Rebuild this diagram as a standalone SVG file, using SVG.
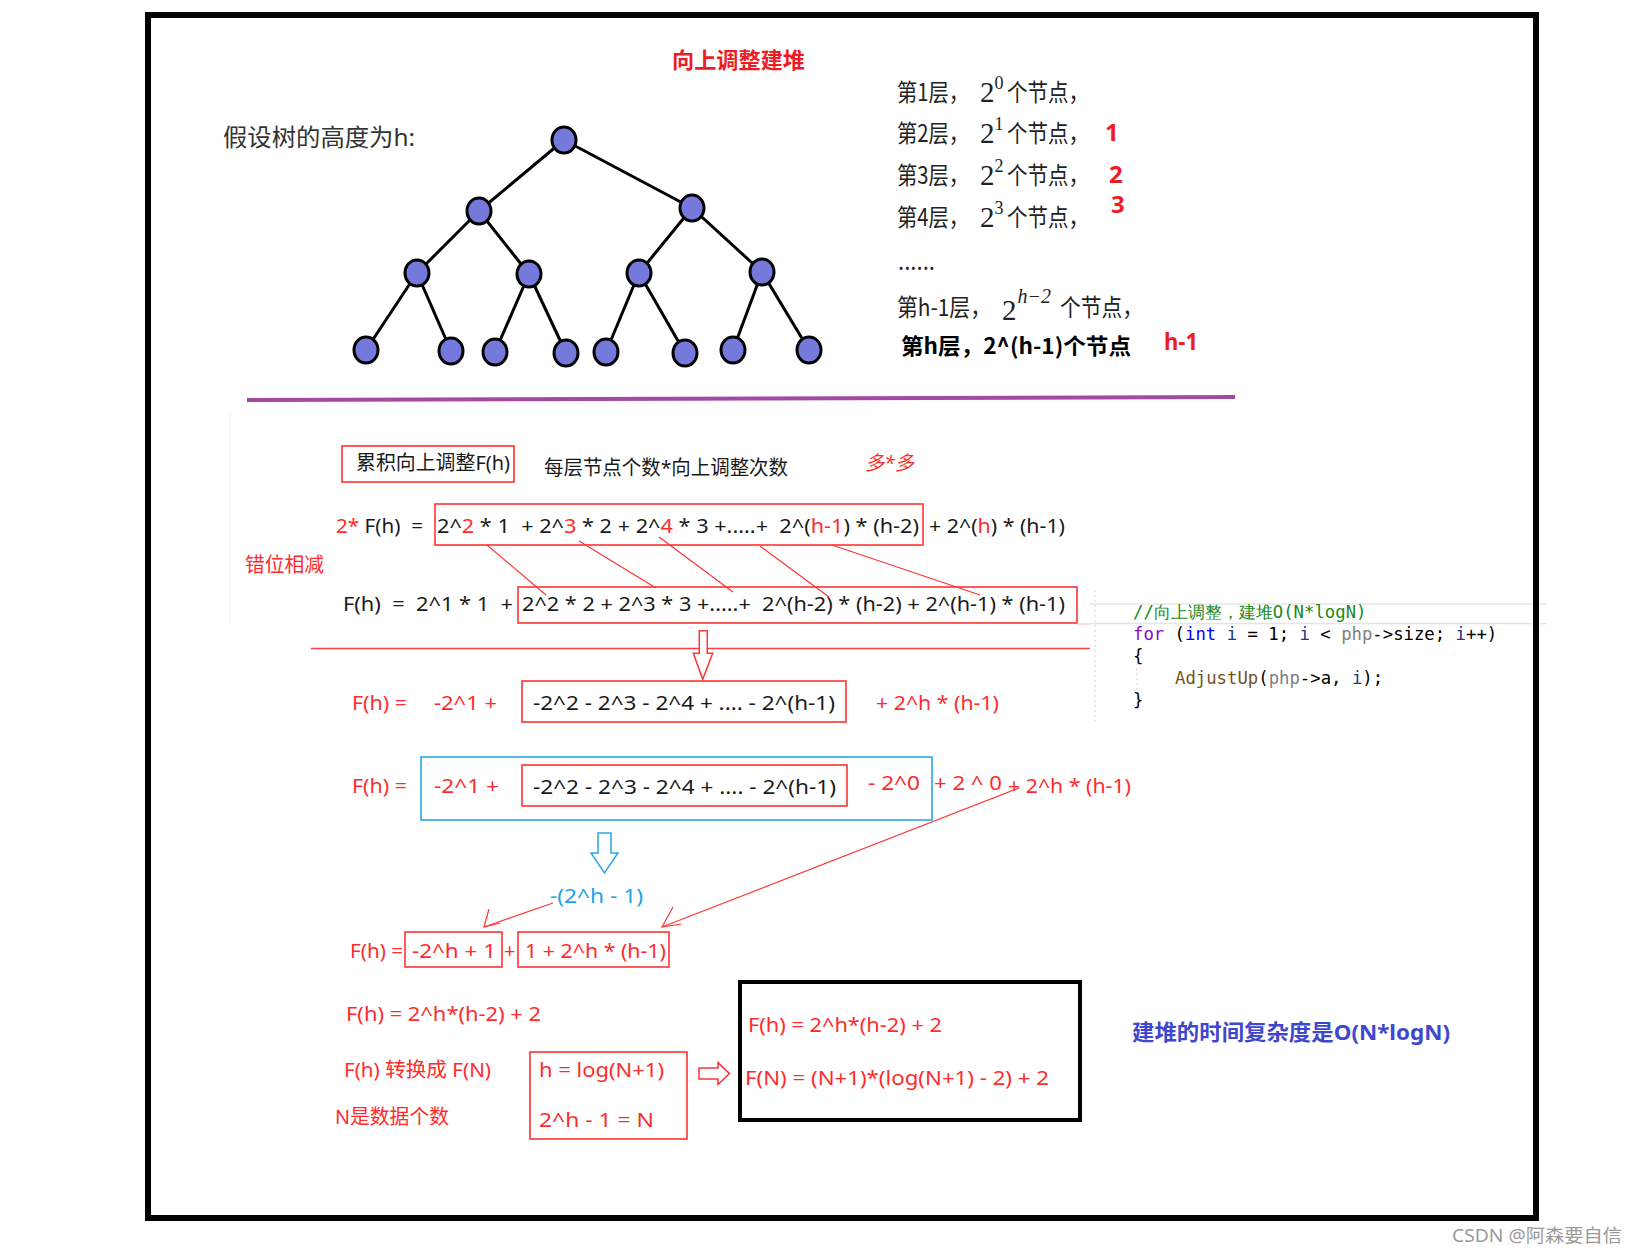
<svg xmlns="http://www.w3.org/2000/svg" width="1640" height="1254" viewBox="0 0 1640 1254">
<style>
text{font-family:"Noto Sans","Noto Sans CJK SC",sans-serif;white-space:pre}
.eq{font-size:20px;fill:#1a1a1a}
.r{fill:#ff2b2b}
.rb{fill:none;stroke:#ff3333;stroke-width:1.6}
.cj{font-family:"Noto Sans CJK SC",sans-serif;font-size:24px;fill:#222}
.m{font-family:"Liberation Serif",serif;fill:#222;font-size:29px}
.sup{font-size:18px}
.code{font-family:"DejaVu Sans Mono",monospace;font-size:17.3px;fill:#000}
.edge{stroke:#000;stroke-width:3}
.node{fill:#7579dc;stroke:#000;stroke-width:3}
.thin{stroke:#ff3333;stroke-width:1.2;fill:none}
</style>
<rect width="1640" height="1254" fill="#fff"/>

<!-- code editor background lines -->
<g id="editor">
<line x1="1090" y1="604" x2="1547" y2="604" stroke="#e4e4ec" stroke-width="1.5"/>
<line x1="1090" y1="623.5" x2="1547" y2="623.5" stroke="#e4e4ec" stroke-width="1.5"/>
<line x1="1095" y1="590" x2="1095" y2="722" stroke="#cfcfcf" stroke-width="1" stroke-dasharray="2,3"/>
<line x1="1137" y1="663" x2="1137" y2="694" stroke="#cfcfcf" stroke-width="1" stroke-dasharray="2,3"/>
<text class="code" x="1133" y="618" style="fill:#1a8a1a">//向上调整，建堆O(N*logN)</text>
<text class="code" x="1133" y="640"><tspan fill="#8f08c4">for</tspan> (<tspan fill="#0000ff">int</tspan> <tspan fill="#1f377f">i</tspan> = 1; <tspan fill="#1f377f">i</tspan> &lt; <tspan fill="#808080">php</tspan>-&gt;size; <tspan fill="#1f377f">i</tspan>++)</text>
<text class="code" x="1133" y="662">{</text>
<text class="code" x="1175" y="684"><tspan fill="#74531f">AdjustUp</tspan>(<tspan fill="#808080">php</tspan>-&gt;a, <tspan fill="#1f377f">i</tspan>);</text>
<text class="code" x="1133" y="706">}</text>
</g>

<!-- frame -->
<rect x="148" y="15" width="1388" height="1203" fill="none" stroke="#000" stroke-width="6"/>

<!-- title -->
<text id="title" x="672" y="68" font-size="22" font-weight="bold" fill="#ee1c24" textLength="133" lengthAdjust="spacingAndGlyphs">向上调整建堆</text>
<text id="assume" x="223" y="146" font-size="24" fill="#333" textLength="192" lengthAdjust="spacingAndGlyphs">假设树的高度为h:</text>

<!-- tree -->
<g id="tree-edges">
<line class="edge" x1="564" y1="140" x2="479" y2="211"/>
<line class="edge" x1="564" y1="140" x2="692" y2="208"/>
<line class="edge" x1="479" y1="211" x2="417" y2="273"/>
<line class="edge" x1="479" y1="211" x2="529" y2="274"/>
<line class="edge" x1="692" y1="208" x2="639" y2="273"/>
<line class="edge" x1="692" y1="208" x2="762" y2="272"/>
<line class="edge" x1="417" y1="273" x2="366" y2="350"/>
<line class="edge" x1="417" y1="273" x2="451" y2="351"/>
<line class="edge" x1="529" y1="274" x2="495" y2="352"/>
<line class="edge" x1="529" y1="274" x2="566" y2="353"/>
<line class="edge" x1="639" y1="273" x2="606" y2="352"/>
<line class="edge" x1="639" y1="273" x2="685" y2="353"/>
<line class="edge" x1="762" y1="272" x2="733" y2="350"/>
<line class="edge" x1="762" y1="272" x2="809" y2="350"/>
</g>
<g id="tree-nodes">
<ellipse class="node" cx="564" cy="140" rx="12" ry="13"/>
<ellipse class="node" cx="479" cy="211" rx="12" ry="13"/>
<ellipse class="node" cx="692" cy="208" rx="12" ry="13"/>
<ellipse class="node" cx="417" cy="273" rx="12" ry="13"/>
<ellipse class="node" cx="529" cy="274" rx="12" ry="13"/>
<ellipse class="node" cx="639" cy="273" rx="12" ry="13"/>
<ellipse class="node" cx="762" cy="272" rx="12" ry="13"/>
<ellipse class="node" cx="366" cy="350" rx="12" ry="13"/>
<ellipse class="node" cx="451" cy="351" rx="12" ry="13"/>
<ellipse class="node" cx="495" cy="352" rx="12" ry="13"/>
<ellipse class="node" cx="566" cy="353" rx="12" ry="13"/>
<ellipse class="node" cx="606" cy="352" rx="12" ry="13"/>
<ellipse class="node" cx="685" cy="353" rx="12" ry="13"/>
<ellipse class="node" cx="733" cy="350" rx="12" ry="13"/>
<ellipse class="node" cx="809" cy="350" rx="12" ry="13"/>
</g>

<!-- level list -->
<g id="levels">
<text class="cj" x="897" y="101" textLength="72" lengthAdjust="spacingAndGlyphs">第1层，</text>
<text class="m" x="980" y="102">2<tspan class="sup" dy="-13">0</tspan></text>
<text class="cj" x="1007" y="101" textLength="82" lengthAdjust="spacingAndGlyphs">个节点，</text>

<text class="cj" x="897" y="142" textLength="72" lengthAdjust="spacingAndGlyphs">第2层，</text>
<text class="m" x="980" y="143">2<tspan class="sup" dy="-13">1</tspan></text>
<text class="cj" x="1007" y="142" textLength="82" lengthAdjust="spacingAndGlyphs">个节点，</text>

<text class="cj" x="897" y="184" textLength="72" lengthAdjust="spacingAndGlyphs">第3层，</text>
<text class="m" x="980" y="185">2<tspan class="sup" dy="-13">2</tspan></text>
<text class="cj" x="1007" y="184" textLength="82" lengthAdjust="spacingAndGlyphs">个节点，</text>

<text class="cj" x="897" y="226" textLength="72" lengthAdjust="spacingAndGlyphs">第4层，</text>
<text class="m" x="980" y="227">2<tspan class="sup" dy="-13">3</tspan></text>
<text class="cj" x="1007" y="226" textLength="82" lengthAdjust="spacingAndGlyphs">个节点，</text>

<text class="cj" x="898" y="270" textLength="37" lengthAdjust="spacingAndGlyphs">......</text>

<text class="cj" x="897" y="316" textLength="94" lengthAdjust="spacingAndGlyphs">第h-1层，</text>
<text class="m" x="1002" y="320">2<tspan dx="1" dy="-17" font-size="20" font-style="italic">h−2</tspan></text>
<text class="cj" x="1060" y="316" textLength="83" lengthAdjust="spacingAndGlyphs">个节点，</text>

<text class="cj" x="901" y="354" font-weight="bold" style="fill:#000;font-size:22px" textLength="230" lengthAdjust="spacingAndGlyphs">第h层，2^(h-1)个节点</text>

<text x="1105" y="141" font-size="24" font-weight="bold" fill="#ee1c24">1</text>
<text x="1109" y="183" font-size="24" font-weight="bold" fill="#ee1c24">2</text>
<text x="1111" y="213" font-size="24" font-weight="bold" fill="#ee1c24">3</text>
<text x="1164" y="350" font-size="24" font-weight="bold" fill="#ee1c24" textLength="34" lengthAdjust="spacingAndGlyphs">h-1</text>
</g>

<line id="divider" x1="247" y1="400" x2="1235" y2="397" stroke="#a349a4" stroke-width="4"/>
<line x1="230" y1="413" x2="230" y2="625" stroke="#efefef" stroke-width="1"/>

<!-- section 2 -->
<g id="label-sum">
<rect class="rb" x="342" y="446" width="172" height="36"/>
<text class="eq" x="356" y="470" textLength="154" lengthAdjust="spacingAndGlyphs">累积向上调整F(h)</text>
</g>
<text class="eq" x="544" y="475" textLength="244" lengthAdjust="spacingAndGlyphs">每层节点个数*向上调整次数</text>
<text class="eq r" x="865" y="470" textLength="49" lengthAdjust="spacingAndGlyphs" font-style="italic">多*多</text>
<text class="eq r" x="245" y="572" textLength="79" lengthAdjust="spacingAndGlyphs">错位相减</text>

<g id="eq1">
<text class="eq" x="336" y="533" textLength="87" lengthAdjust="spacingAndGlyphs"><tspan class="r">2*</tspan> F(h)  =</text>
<rect class="rb" x="435" y="504" width="488" height="41"/>
<text class="eq" x="437" y="533" textLength="482" lengthAdjust="spacingAndGlyphs">2^<tspan class="r">2</tspan> * 1  + 2^<tspan class="r">3</tspan> * 2 + 2^<tspan class="r">4</tspan> * 3 +.....+  2^(<tspan class="r">h-1</tspan>) * (h-2)</text>
<text class="eq" x="929" y="533" textLength="136" lengthAdjust="spacingAndGlyphs">+ 2^(<tspan class="r">h</tspan>) * (h-1)</text>
</g>

<g id="eq2">
<text class="eq" x="343" y="611" textLength="170" lengthAdjust="spacingAndGlyphs">F(h)  =  2^1 * 1  +</text>
<rect class="rb" x="518" y="587" width="559" height="36"/>
<text class="eq" x="522" y="611" textLength="543" lengthAdjust="spacingAndGlyphs">2^2 * 2 + 2^3 * 3 +.....+  2^(h-2) * (h-2) + 2^(h-1) * (h-1)</text>
<line x1="1077" y1="624" x2="1090" y2="624" stroke="#ffb3b3" stroke-width="1"/>
</g>

<g id="connectors">
<line class="thin" x1="487" y1="545" x2="546" y2="595"/>
<line class="thin" x1="579" y1="541" x2="656" y2="588"/>
<line class="thin" x1="659" y1="537" x2="733" y2="592"/>
<line class="thin" x1="760" y1="546" x2="829" y2="597"/>
<line class="thin" x1="832" y1="545" x2="980" y2="595"/>
<line x1="311" y1="648.5" x2="1090" y2="648.5" stroke="#ff4040" stroke-width="1.6"/>
<polygon points="699.3,630.7 707.3,630.7 707.3,653.3 712.7,653.3 702.7,679.3 693.3,653.3 699.3,653.3" fill="#fff" stroke="#ff3333" stroke-width="1.5"/>
<polygon points="598,833 611,833 611,853 618,853 604.5,873 591,853 598,853" fill="#fff" stroke="#2aa6e6" stroke-width="1.5"/>
<line class="thin" x1="553" y1="903" x2="484" y2="927"/>
<polyline class="thin" points="489,909 484,927 500,923"/>
<line class="thin" x1="1019" y1="788" x2="662" y2="927"/>
<polyline class="thin" points="673,907 662,927 681,924"/>
<polygon points="699,1068 718,1068 718,1062.6 729.5,1073.6 718,1084.6 718,1079 699,1079" fill="#fff" stroke="#ff3333" stroke-width="1.5"/>
</g>

<g id="eq3">
<text class="eq r" x="352" y="710" textLength="55" lengthAdjust="spacingAndGlyphs">F(h) =</text>
<text class="eq r" x="434" y="710" textLength="63" lengthAdjust="spacingAndGlyphs">-2^1 +</text>
<rect class="rb" x="522" y="681" width="324" height="41"/>
<text class="eq" x="533" y="710" textLength="302" lengthAdjust="spacingAndGlyphs">-2^2 - 2^3 - 2^4 + .... - 2^(h-1)</text>
<text class="eq r" x="876" y="710" textLength="123" lengthAdjust="spacingAndGlyphs">+ 2^h * (h-1)</text>
</g>

<g id="eq4">
<rect x="421" y="757" width="511" height="63" fill="none" stroke="#2aa6e6" stroke-width="1.6"/>
<text class="eq r" x="352" y="793" textLength="55" lengthAdjust="spacingAndGlyphs">F(h) =</text>
<text class="eq r" x="434" y="793" textLength="65" lengthAdjust="spacingAndGlyphs">-2^1 +</text>
<rect class="rb" x="522" y="765" width="325" height="41"/>
<text class="eq" x="533" y="794" textLength="303" lengthAdjust="spacingAndGlyphs">-2^2 - 2^3 - 2^4 + .... - 2^(h-1)</text>
<text class="eq r" x="868" y="790" textLength="52" lengthAdjust="spacingAndGlyphs">- 2^0</text>
<text class="eq r" x="934" y="790" textLength="68" lengthAdjust="spacingAndGlyphs">+ 2 ^ 0</text>
<text class="eq r" x="1008" y="793" textLength="123" lengthAdjust="spacingAndGlyphs">+ 2^h * (h-1)</text>
</g>

<text class="eq" x="550" y="903" textLength="93" lengthAdjust="spacingAndGlyphs" style="fill:#1aa3e8">-(2^h - 1)</text>

<g id="eq5">
<text class="eq r" x="350" y="958" textLength="53" lengthAdjust="spacingAndGlyphs">F(h) =</text>
<rect class="rb" x="405" y="932" width="97" height="35"/>
<text class="eq r" x="412" y="958" textLength="84" lengthAdjust="spacingAndGlyphs">-2^h + 1</text>
<text class="eq r" x="504" y="958">+</text>
<rect class="rb" x="518" y="932" width="151" height="35"/>
<text class="eq r" x="525" y="958" textLength="141" lengthAdjust="spacingAndGlyphs">1 + 2^h * (h-1)</text>
</g>

<text class="eq r" x="346" y="1021" textLength="195" lengthAdjust="spacingAndGlyphs">F(h) = 2^h*(h-2) + 2</text>
<text class="eq r" x="344" y="1077" textLength="147" lengthAdjust="spacingAndGlyphs">F(h) 转换成 F(N)</text>
<text class="eq r" x="335" y="1124" textLength="114" lengthAdjust="spacingAndGlyphs">N是数据个数</text>

<g id="box-hN">
<rect class="rb" x="530" y="1052" width="157" height="87"/>
<text class="eq r" x="539" y="1077" textLength="125" lengthAdjust="spacingAndGlyphs">h = log(N+1)</text>
<text class="eq r" x="539" y="1127" textLength="115" lengthAdjust="spacingAndGlyphs">2^h - 1 = N</text>
</g>

<g id="box-result">
<rect x="740" y="982" width="340" height="138" fill="none" stroke="#000" stroke-width="4"/>
<text class="eq r" x="748" y="1032" textLength="194" lengthAdjust="spacingAndGlyphs">F(h) = 2^h*(h-2) + 2</text>
<text class="eq r" x="745" y="1085" textLength="304" lengthAdjust="spacingAndGlyphs">F(N) = (N+1)*(log(N+1) - 2) + 2</text>
</g>

<text id="conclusion" x="1132" y="1040" font-size="22" font-weight="bold" fill="#3f48cc" textLength="318" lengthAdjust="spacingAndGlyphs">建堆的时间复杂度是O(N*logN)</text>

<text id="watermark" x="1452" y="1242" font-size="18" fill="#9a9a9a" textLength="170" lengthAdjust="spacingAndGlyphs">CSDN @阿森要自信</text>
</svg>
